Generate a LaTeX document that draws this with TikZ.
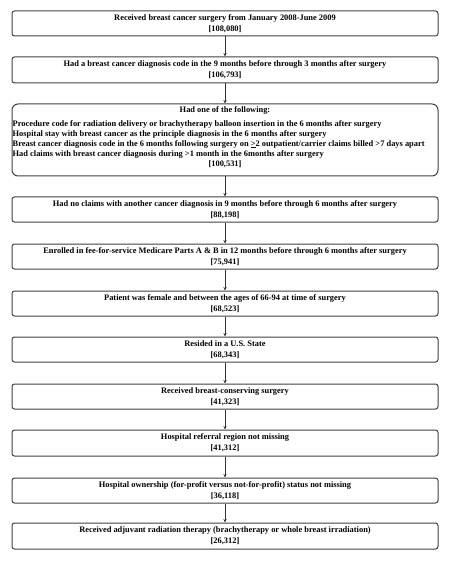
\documentclass[tikz,border=0pt]{standalone}
\usepackage{fontspec}
\setmainfont{Liberation Serif}
\usetikzlibrary{arrows.meta}
\begin{document}
\begin{tikzpicture}[x=1pt,y=-1pt,
  box/.style={draw=black!75,line width=1pt,rounded corners=2.5pt,minimum width=426pt,inner sep=0pt,align=center,font=\bfseries\fontsize{8.4}{11}\selectfont},
  txt/.style={inner sep=0pt,font=\bfseries\fontsize{8.4}{10}\selectfont},
  arr/.style={-{Stealth[length=3.5pt,width=3.2pt]},line width=0.9pt,draw=black!80}]
\useasboundingbox (0,0) rectangle (450,561);
\node[box,minimum height=25pt] (b1) at (225,23.5) {Received breast cancer surgery from January 2008-June 2009\\{}[108,080]};
\node[box,minimum height=26pt] (b2) at (225,70) {Had a breast cancer diagnosis code in the 9 months before through 3 months after surgery\\{}[106,793]};
\node[box,minimum height=72pt,rounded corners=6pt] (b3) at (225,140) {};
\node[txt] (t3a) at (225,110) {Had one of the following:};
\node[txt,anchor=west,align=left] (t3b) at (12.5,139) {Procedure code  for radiation delivery or brachytherapy  balloon insertion in the 6 months after surgery\\
Hospital stay with breast cancer  as the principle diagnosis in the 6 months after surgery\\
Breast cancer diagnosis code in the 6 months following surgery on \underline{>}2 outpatient/carrier claims billed >7 days apart\\
Had claims with breast cancer diagnosis during >1 month in the 6months after surgery};
\node[txt] (t3c) at (225,164.5) {[100,531]};
\node[box,minimum height=25pt] (b4) at (225,209.5) {Had no claims with another cancer diagnosis in 9 months before through 6 months after surgery\\{}[88,198]};
\node[box,minimum height=25pt] (b5) at (225,256.5) {Enrolled in fee-for-service Medicare Parts  A \& B in 12 months before through 6 months after surgery\\{}[75,941]};
\node[box,minimum height=25pt] (b6) at (225,303.5) {Patient was female and between the ages of 66-94 at time of surgery\\{}[68,523]};
\node[box,minimum height=25pt] (b7) at (225,349.5) {Resided in a U.S. State\\{}[68,343]};
\node[box,minimum height=25pt] (b8) at (225,396.5) {Received breast-conserving surgery\\{}[41,323]};
\node[box,minimum height=26pt] (b9) at (225,443) {Hospital referral region not missing\\{}[41,312]};
\node[box,minimum height=25pt] (b10) at (225,490.5) {Hospital ownership (for-profit versus not-for-profit) status not missing\\{}[36,118]};
\node[box,minimum height=26pt] (b11) at (225,536) {Received adjuvant radiation therapy (brachytherapy  or whole breast irradiation)\\{}[26,312]};
\foreach \a/\b in {b1/b2,b2/b3,b3/b4,b4/b5,b5/b6,b6/b7,b7/b8,b8/b9,b9/b10,b10/b11}
  \draw[arr] (\a.south) -- (\b.north);
\end{tikzpicture}
\end{document}
